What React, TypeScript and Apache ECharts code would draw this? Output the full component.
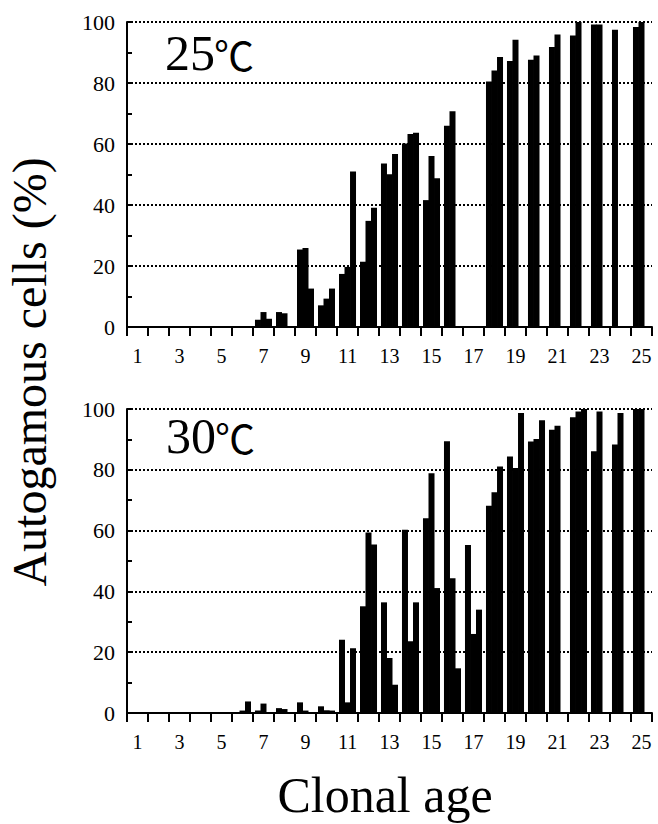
import React, { useEffect, useRef } from "react";
import * as echarts from "echarts";

// Clonal age categories (1..25)
const ages: string[] = [
  "1", "2", "3", "4", "5", "6", "7", "8", "9", "10", "11", "12", "13",
  "14", "15", "16", "17", "18", "19", "20", "21", "22", "23", "24", "25",
];

// 25 °C panel: three successive samples within each clonal age (null = no sample)
const t25Sample1: (number | null)[] = [
  0, 0, 0, 0, 0, 0, 2.4, 4.9, 25.4, 7.1, 17.4, 21.4, 53.6,
  60.2, 41.6, 66, null, 80.5, 87.2, 87.6, 91.8, 95.6, 99.2, 97.5, 98.4,
];
const t25Sample2: (number | null)[] = [
  0, 0, 0, 0, 0, 0, 4.9, 4.5, 25.9, 9.3, 19.7, 34.8, 50.1,
  63.3, 56.1, 70.7, null, 84.1, 94.2, 89, 95.9, 100, 99.2, null, 100,
];
const t25Sample3: (number | null)[] = [
  0, 0, 0, 0, 0, 0, 2.7, 0, 12.6, 12.6, 51, 39.1, 56.7,
  63.7, 48.8, null, null, 88.5, null, null, null, null, null, null, null,
];

// 30 °C panel
const t30Sample1: (number | null)[] = [
  0, 0, 0, 0, 0, 0, 0.8, 1.6, 3.5, 2.2, 24.1, 35.1, 36.4,
  60.3, 64.1, 89.4, 55.3, 68.2, 84.4, 89.3, 93.2, 97.3, 86.1, 88.3, 100,
];
const t30Sample2: (number | null)[] = [
  0, 0, 0, 0, 0, 0.8, 3.1, 1.3, 0.8, 0.9, 3.5, 59.4, 18.1,
  23.6, 78.9, 44.3, 26, 72.6, 80.6, 90.1, 94.5, 99.2, 99.2, 98.7, 100,
];
const t30Sample3: (number | null)[] = [
  0, 0, 0, 0, 0, 3.8, 0, 0, 0, 0.8, 21.3, 55.4, 9.3,
  36.4, 41.1, 14.7, 34, 81.1, 98.7, 96.3, null, 100, null, null, null,
];

const panelTemps: string[] = ["25", "30"];
const degreeSign = "℃";
const yTitle = "Autogamous cells (%)";
const xTitle = "Clonal age";

const FONT = "Liberation Serif";

export default function App() {
  const ref = useRef<HTMLDivElement>(null);

  useEffect(() => {
    if (!ref.current) return;
    const chart = echarts.init(ref.current, null, { renderer: "svg" });

    const grids = [
      { left: 127, top: 22, width: 525, height: 305 },
      { left: 127, top: 409, width: 525, height: 304 },
    ];

    const xAxisFor = (gi: number) => ({
      type: "category",
      gridIndex: gi,
      data: ages,
      boundaryGap: true,
      axisLine: { show: true, onZero: false, lineStyle: { color: "#000", width: 2 } },
      axisTick: {
        show: true,
        interval: 0,
        alignWithLabel: false,
        inside: false,
        length: 9,
        lineStyle: { color: "#000", width: 2 },
      },
      axisLabel: {
        interval: 1,
        color: "#000",
        fontFamily: FONT,
        fontWeight: "normal",
        fontSize: 20,
        margin: 19,
      },
      splitLine: { show: false },
    });

    const yAxisFor = (gi: number) => ({
      type: "value",
      gridIndex: gi,
      min: 0,
      max: 100,
      interval: 20,
      axisLine: { show: true, lineStyle: { color: "#000", width: 2 } },
      axisTick: { show: true, inside: true, length: 5, lineStyle: { color: "#000", width: 2 } },
      minorTick: { show: true, splitNumber: 2, length: 5, lineStyle: { color: "#000", width: 2 } },
      axisLabel: { color: "#000", fontFamily: FONT, fontWeight: "normal", fontSize: 22, margin: 12 },
      splitLine: { show: true, lineStyle: { color: "#000", width: 2, type: [2, 2] } },
    });

    const barSeries = (data: (number | null)[], gi: number) => ({
      type: "bar",
      xAxisIndex: gi,
      yAxisIndex: gi,
      data,
      barWidth: 6,
      barGap: "-8%",
      itemStyle: { color: "#000" },
      silent: true,
    });

    const textStyle = (text: string, size: number, align: string, vAlign: string) => ({
      text,
      fontSize: size,
      fontFamily: FONT,
      fill: "#000",
      align,
      textAlign: align,
      verticalAlign: vAlign,
      textVerticalAlign: vAlign,
    });

    const tempLabel = (temp: string, x: number, y: number) => ({
      type: "group",
      x,
      y,
      children: [
        { type: "text", x: 0, y: 0, style: textStyle(temp, 50, "left", "top") },
        {
          type: "text",
          x: 49,
          y: 6,
          style: {
            text: degreeSign,
            fontSize: 40,
            fontFamily: "Noto Sans CJK JP",
            fill: "#000",
            align: "left",
            textAlign: "left",
            verticalAlign: "top",
            textVerticalAlign: "top",
          },
        },
      ],
    });

    chart.setOption({
      animation: false,
      backgroundColor: "#fff",
      textStyle: { fontFamily: FONT },
      grid: grids,
      xAxis: [xAxisFor(0), xAxisFor(1)],
      yAxis: [yAxisFor(0), yAxisFor(1)],
      series: [
        barSeries(t25Sample1, 0),
        barSeries(t25Sample2, 0),
        barSeries(t25Sample3, 0),
        barSeries(t30Sample1, 1),
        barSeries(t30Sample2, 1),
        barSeries(t30Sample3, 1),
      ],
      graphic: [
        tempLabel(panelTemps[0], 165, 28),
        tempLabel(panelTemps[1], 166, 411),
        {
          type: "text",
          x: 29,
          y: 372,
          rotation: Math.PI / 2,
          style: textStyle(yTitle, 48, "center", "middle"),
        },
        { type: "text", x: 385, y: 795, style: textStyle(xTitle, 50, "center", "middle") },
      ],
    });

    return () => chart.dispose();
  }, []);

  return (
    <div
      ref={ref}
      style={{ position: "fixed", left: 0, top: 0, width: 658, height: 824, background: "#fff" }}
    />
  );
}
